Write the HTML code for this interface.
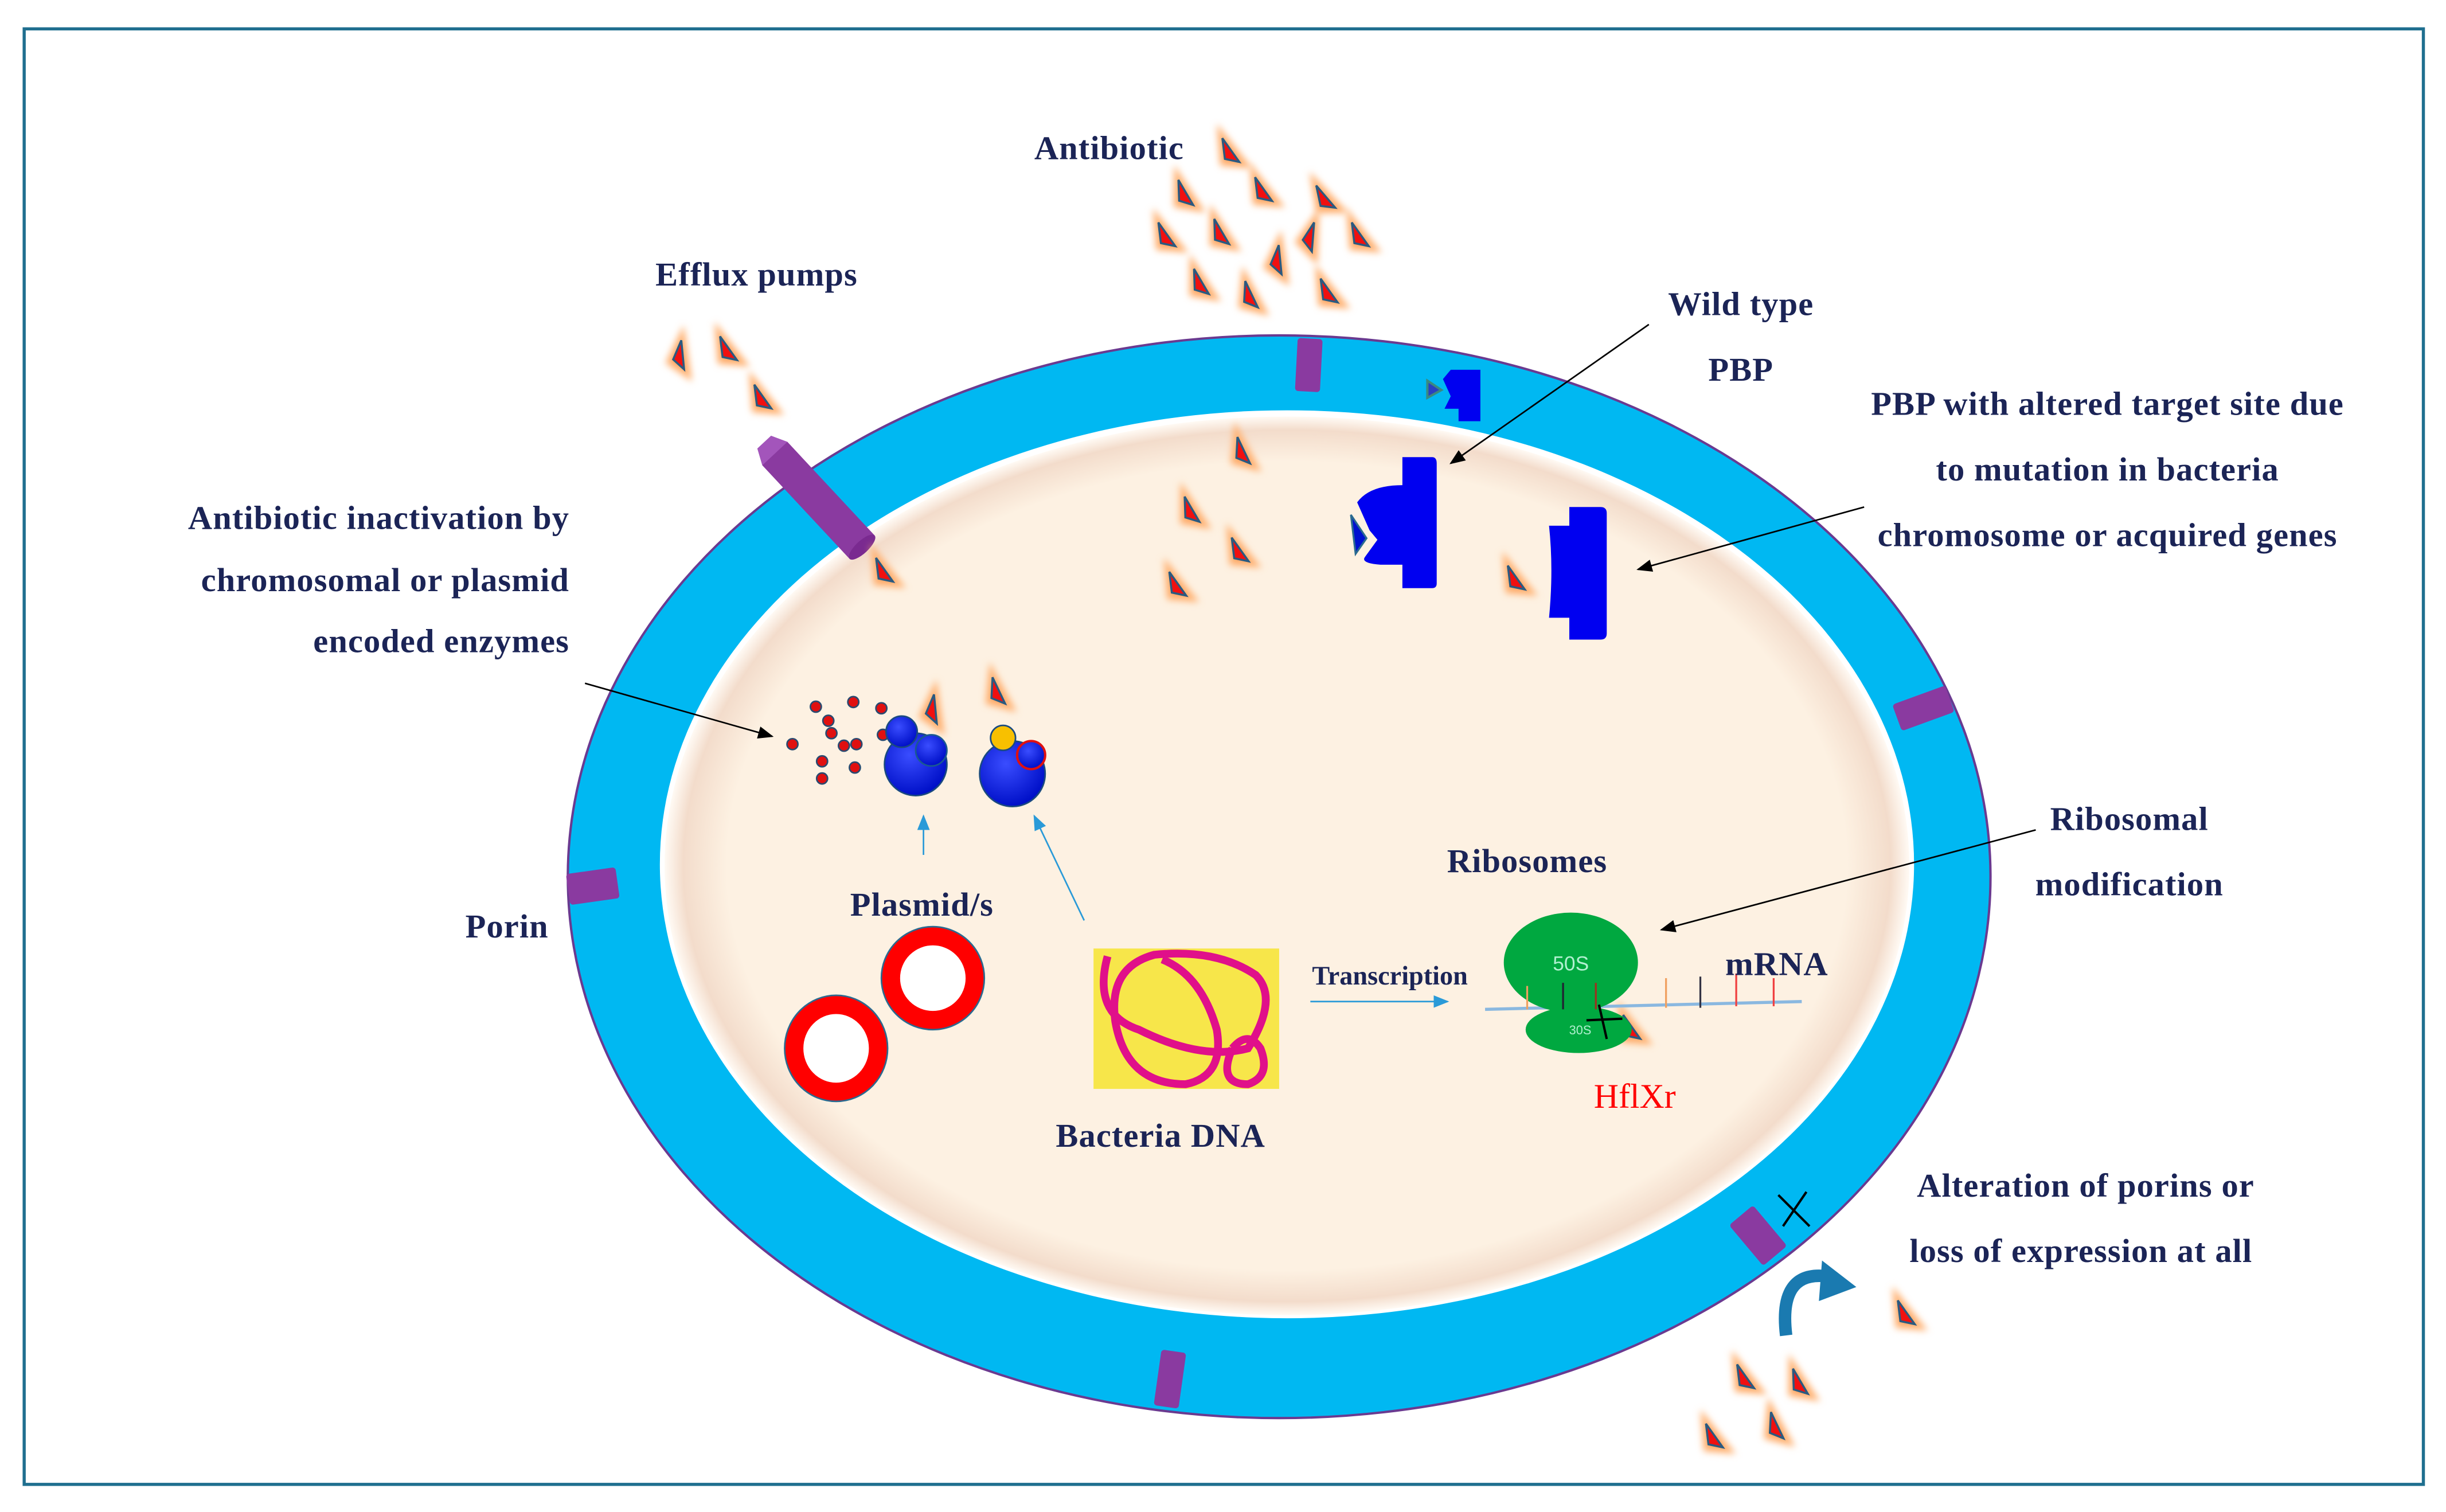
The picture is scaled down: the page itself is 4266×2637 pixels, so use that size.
<!DOCTYPE html>
<html><head><meta charset="utf-8"><style>
html,body{margin:0;padding:0;background:#fff}
svg{display:block}
text{font-family:"Liberation Serif",serif;font-weight:bold;fill:#1b2456}
</style></head><body>
<svg width="4266" height="2637" viewBox="0 0 1568 969.2" preserveAspectRatio="none" xmlns="http://www.w3.org/2000/svg">
<defs>
<filter id="glow" x="-1" y="-1" width="3" height="3"><feGaussianBlur stdDeviation="2.2"/></filter>
<radialGradient id="cyto" cx="50%" cy="50%" r="50%"><stop offset="0.9" stop-color="#fdf1e2"/><stop offset="0.97" stop-color="#f3dccb"/><stop offset="1" stop-color="#fffaf4"/></radialGradient>
<radialGradient id="blue" cx="40%" cy="35%" r="65%"><stop offset="0" stop-color="#3a4dff"/><stop offset="1" stop-color="#0010c8"/></radialGradient>
<g id="ab"><path d="M0,-13 L8,11 L-5,5 Z" fill="#ffa060" stroke="#ffb070" stroke-width="4" filter="url(#glow)"/><path d="M0,-10 L5,8 L-3,3 Z" fill="#f01010" stroke="#2a5a80" stroke-width="1.3"/></g>
<marker id="ah" markerWidth="10" markerHeight="8" refX="9" refY="4" orient="auto" markerUnits="userSpaceOnUse"><path d="M0,0 L10,4 L0,8 Z" fill="#000"/></marker>
<marker id="bh" markerWidth="10" markerHeight="8" refX="9" refY="4" orient="auto" markerUnits="userSpaceOnUse"><path d="M0,0 L10,4 L0,8 Z" fill="#2a9ad8"/></marker>
</defs>
<rect x="15.5" y="18.5" width="1538" height="933" fill="#fff" stroke="#1f6f8f" stroke-width="2"/>
<ellipse cx="820" cy="562" rx="456" ry="347" fill="#00b8f2" stroke="#6a3a90" stroke-width="1.5"/>
<ellipse cx="825" cy="554" rx="402" ry="291" fill="#fff" />
<ellipse cx="825" cy="555" rx="399" ry="288" fill="url(#cyto)"/>
<g fill="#8a3aa0">
<rect x="831" y="217" width="16" height="34" rx="2" transform="rotate(3 839 234)"/>
<rect x="364" y="558" width="32" height="20" rx="2" transform="rotate(-8 380 568)"/>
<rect x="1215" y="445" width="36" height="18" rx="2" transform="rotate(-20 1233 454)"/>
<rect x="742" y="866" width="16" height="36" rx="2" transform="rotate(8 750 884)"/>
<rect x="1110" y="782" width="34" height="20" rx="2" transform="rotate(50 1127 792)"/>
</g>
<!-- efflux pump -->
<g transform="translate(524,320) rotate(-43)">
<path d="M-11,-40 L-6,-50 L6,-50 L11,-40 L11,42 L-11,42 Z" fill="#8a3aa0"/>
<path d="M-6,-50 L6,-50 L11,-40 L-11,-40 Z" fill="#a355bb"/>
<ellipse cx="0" cy="42" rx="11" ry="4" fill="#7a2a90"/>
</g>
<!-- PBPs -->
<path d="M925,243 L930,237 L949,237 L949,270 L935,270 L935,262 L926,262 L930,254 Z" fill="#0000f0"/>
<path d="M915,244 L924,250 L915,255 Z" fill="#2a40c0" stroke="#3a8a80" stroke-width="1.5"/>
<path d="M899,293 L918,293 Q921,293 921,297 L921,374 Q921,377 918,377 L899,377 L899,362 L885,362 Q872,361 875,357 L883,346 L878,340 L870,322 Q878,311 899,311 Z" fill="#0000f0"/>
<path d="M1006,325 L1026,325 Q1030,325 1030,329 L1030,406 Q1030,410 1026,410 L1006,410 L1006,396 L993,396 Q996,365 993,337 L1006,337 Z" fill="#0000f0"/>
<path d="M866,330 L876,345 L869,355 Z" fill="#0010d0" stroke="#2a6a90" stroke-width="1.2"/>
<g>
<use href="#ab" transform="translate(787,98) rotate(-20)"/><use href="#ab" transform="translate(758,125) rotate(-15)"/><use href="#ab" transform="translate(808,123) rotate(-20)"/><use href="#ab" transform="translate(848,128) rotate(-25)"/><use href="#ab" transform="translate(746,152) rotate(-20)"/><use href="#ab" transform="translate(781,150) rotate(-15)"/><use href="#ab" transform="translate(839,152) rotate(20)"/><use href="#ab" transform="translate(870,152) rotate(-20)"/><use href="#ab" transform="translate(818,167) rotate(10)"/><use href="#ab" transform="translate(768,182) rotate(-15)"/><use href="#ab" transform="translate(800,190) rotate(-10)"/><use href="#ab" transform="translate(850,188) rotate(-20)"/>
<use href="#ab" transform="translate(435,228) rotate(10)"/><use href="#ab" transform="translate(465,225) rotate(-20)"/><use href="#ab" transform="translate(487,256) rotate(-20)"/>
<use href="#ab" transform="translate(795,290) rotate(-10)"/><use href="#ab" transform="translate(762,328) rotate(-15)"/><use href="#ab" transform="translate(793,354) rotate(-20)"/><use href="#ab" transform="translate(753,376) rotate(-20)"/><use href="#ab" transform="translate(565,367) rotate(-20)"/><use href="#ab" transform="translate(597,455) rotate(10)"/><use href="#ab" transform="translate(638,444) rotate(-10)"/><use href="#ab" transform="translate(970,372) rotate(-20)"/><use href="#ab" transform="translate(1044,660) rotate(-20)"/>
<use href="#ab" transform="translate(1220,843) rotate(-20)"/><use href="#ab" transform="translate(1117,884) rotate(-20)"/><use href="#ab" transform="translate(1152,887) rotate(-15)"/><use href="#ab" transform="translate(1097,922) rotate(-20)"/><use href="#ab" transform="translate(1137,915) rotate(-10)"/>
</g>
<g fill="#e01010" stroke="#2a4a70" stroke-width="1">
<circle cx="523" cy="453" r="3.5"/><circle cx="547" cy="450" r="3.5"/><circle cx="565" cy="454" r="3.5"/><circle cx="531" cy="462" r="3.5"/><circle cx="533" cy="470" r="3.5"/><circle cx="508" cy="477" r="3.5"/><circle cx="541" cy="478" r="3.5"/><circle cx="549" cy="477" r="3.5"/><circle cx="566" cy="471" r="3.5"/><circle cx="527" cy="488" r="3.5"/><circle cx="548" cy="492" r="3.5"/><circle cx="527" cy="499" r="3.5"/>
</g>
<circle cx="587" cy="490" r="20" fill="url(#blue)" stroke="#1a4a80"/>
<circle cx="578" cy="469" r="10" fill="url(#blue)" stroke="#1a4a80"/>
<circle cx="597" cy="481" r="10" fill="url(#blue)" stroke="#1a5a90"/>
<circle cx="649" cy="496" r="21" fill="url(#blue)" stroke="#1a4a80"/>
<circle cx="643" cy="473" r="8" fill="#f8c000" stroke="#1a4a80"/>
<circle cx="661" cy="484" r="9" fill="url(#blue)" stroke="#e01010" stroke-width="1.5"/>
<ellipse cx="536" cy="672" rx="27" ry="28" fill="#fff" stroke="#ff0000" stroke-width="12"/>
<ellipse cx="536" cy="672" rx="33" ry="34" fill="none" stroke="#2a6a90" stroke-width="1"/>
<ellipse cx="598" cy="627" rx="27" ry="27" fill="#fff" stroke="#ff0000" stroke-width="12"/>
<ellipse cx="598" cy="627" rx="33" ry="33" fill="none" stroke="#2a6a90" stroke-width="1"/>
<rect x="701" y="608" width="119" height="90" fill="#f7e64a"/>
<g fill="none" stroke="#e0108a" stroke-width="5">
<path d="M710,613 Q700,650 730,660 Q770,680 800,672 Q820,640 805,625 Q780,608 740,612 Q710,620 715,655 Q722,695 760,695 Q785,690 780,660 Q770,625 745,615"/>
<path d="M790,672 Q780,695 800,695 Q815,690 808,672 Q800,660 790,672"/>
</g>
<line x1="952" y1="647" x2="1155" y2="642" stroke="#8ab8e0" stroke-width="2"/>
<ellipse cx="1007" cy="617" rx="43" ry="32" fill="#00a840"/>
<ellipse cx="1012" cy="660" rx="34" ry="15" fill="#00a840"/>
<text x="1007" y="622" font-size="13" text-anchor="middle" style="fill:#b0f0d0;font-family:'Liberation Sans',sans-serif;font-weight:normal">50S</text>
<text x="1013" y="663" font-size="8" text-anchor="middle" style="fill:#b0f0d0;font-family:'Liberation Sans',sans-serif;font-weight:normal">30S</text>
<g stroke-width="1.2"><line x1="1068" y1="627" x2="1068" y2="646" stroke="#f0a060"/><line x1="1090" y1="626" x2="1090" y2="646" stroke="#334"/><line x1="1113" y1="624" x2="1113" y2="645" stroke="#f04040"/><line x1="1137" y1="627" x2="1137" y2="645" stroke="#f04040"/><line x1="1002" y1="630" x2="1002" y2="647" stroke="#223"/><line x1="1023" y1="630" x2="1023" y2="647" stroke="#a03020"/><line x1="979" y1="632" x2="979" y2="647" stroke="#f0a060"/></g>
<path d="M1025,644 L1030,666 M1017,654 L1040,653" stroke="#000" stroke-width="1.5"/>
<path d="M1140,766 L1160,786 M1158,764 L1143,786" stroke="#000" stroke-width="1.5"/>
<path d="M1145,856 Q1140,815 1170,818" fill="none" stroke="#1a7ab0" stroke-width="8"/>
<path d="M1168,808 L1190,825 L1166,834 Z" fill="#1a7ab0"/>
<g stroke="#000" stroke-width="1" marker-end="url(#ah)">
<line x1="375" y1="438" x2="495" y2="472"/>
<line x1="1057" y1="208" x2="930" y2="297"/>
<line x1="1195" y1="325" x2="1050" y2="365"/>
<line x1="1305" y1="532" x2="1065" y2="596"/>
</g>
<g stroke="#2a9ad8" stroke-width="1" marker-end="url(#bh)">
<line x1="592" y1="548" x2="592" y2="523"/>
<line x1="695" y1="590" x2="663" y2="523"/>
<line x1="840" y1="642" x2="928" y2="642"/>
</g>
<g font-size="21.5" letter-spacing="0.4">
<text x="711" y="102" text-anchor="middle">Antibiotic</text>
<text x="485" y="183" text-anchor="middle">Efflux pumps</text>
<text x="1116" y="202" text-anchor="middle">Wild type</text>
<text x="1116" y="244" text-anchor="middle">PBP</text>
<text x="1351" y="266" text-anchor="middle">PBP with altered target site due</text>
<text x="1351" y="308" text-anchor="middle">to mutation in bacteria</text>
<text x="1351" y="350" text-anchor="middle">chromosome or acquired genes</text>
<text x="365" y="339" text-anchor="end">Antibiotic inactivation by</text>
<text x="365" y="379" text-anchor="end">chromosomal or plasmid</text>
<text x="365" y="418" text-anchor="end">encoded enzymes</text>
<text x="325" y="601" text-anchor="middle">Porin</text>
<text x="591" y="587" text-anchor="middle">Plasmid/s</text>
<text x="979" y="559" text-anchor="middle">Ribosomes</text>
<text x="1365" y="532" text-anchor="middle">Ribosomal</text>
<text x="1365" y="574" text-anchor="middle">modification</text>
<text x="1139" y="625" text-anchor="middle">mRNA</text>
<text x="744" y="735" text-anchor="middle">Bacteria DNA</text>
<text x="1337" y="767" text-anchor="middle">Alteration of porins or</text>
<text x="1334" y="809" text-anchor="middle">loss of expression at all</text>
</g>
<text x="891" y="631" font-size="17" text-anchor="middle">Transcription</text>
<text x="1048" y="710" font-size="22" text-anchor="middle" style="fill:#ff0000;font-weight:normal">HflXr</text>
</svg>
</body></html>
